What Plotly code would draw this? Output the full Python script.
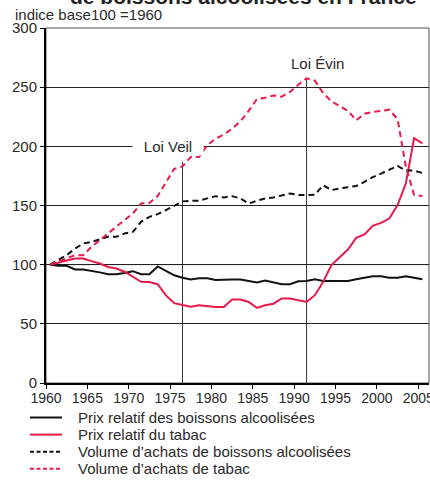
import plotly.graph_objects as go

years = list(range(1960, 2006))

prix_alcool = [100, 99, 99, 96, 96, 95, 93.5, 92, 92, 93,
               94.5, 92, 92, 98.5, 94.5, 91, 89, 87.5, 88.5, 88.5,
               87, 87.5, 87.5, 87.5, 86.5, 85, 86.5, 85, 83.5, 83.5,
               86, 86.3, 87.7, 86.3, 86.3, 86.3, 86.3, 87.7, 89, 90.2,
               90.2, 89, 89, 90.2, 89, 87.7]

prix_tabac = [100, 101.5, 103.5, 105.2, 105.2, 103, 101, 98, 96.7, 94,
              90, 85.5, 85.4, 83.5, 74, 67.5, 66, 64.5, 65.7, 65,
              64.3, 64.3, 70.5, 70.5, 68.5, 63.5, 65.7, 67, 71.4, 71.4,
              70, 68.5, 74.2, 85.4, 99.6, 106.6, 112.8, 122.6, 125.5, 132.8,
              135.3, 139, 150.3, 168.6, 207, 202.5]

vol_alcool = [100, 104, 108, 113.5, 117.9, 119.3, 121.3, 123.5, 123.5, 126.4,
              127.7, 136.2, 140.4, 142.7, 146, 149.5, 153.5, 154, 154, 156,
              157.9, 156.8, 157.9, 156, 151.7, 154, 156, 156.8, 158.8, 160.2,
              158.8, 158.8, 159, 167.2, 163, 164.4, 165.5, 166.5, 170, 174,
              177, 180, 183.5, 179.5, 179.5, 177.5]

vol_tabac = [100, 102.5, 105, 108, 108, 115, 120.7, 126.4, 132, 137.6,
             143.3, 151.7, 152, 158, 170, 181, 183, 191, 191, 201,
             206.5, 210, 215, 221, 230, 240, 241, 243, 242, 246,
             252, 257.5, 255.5, 245, 238, 234, 230, 222, 227.5, 229,
             230, 231, 223, 183, 159, 158]

series_names = ["Prix relatif des boissons alcoolisées",
                "Prix relatif du tabac",
                "Volume d\u2019achats de boissons alcoolisées",
                "Volume d\u2019achats de tabac"]

law_names = ["Loi Veil", "Loi Évin"]
law_years = [1976, 1991]
law_tops = [187, 257.5]

x_tick_labels = [str(y) for y in range(1960, 2006, 5)]
y_tick_vals = [0, 50, 100, 150, 200, 250, 300]

RED = "#E8194B"
BLK = "#111111"
TXT = "#2a2a2a"
FONT = "Liberation Sans, Arial, Helvetica, sans-serif"

W, H = 430, 483
ML, MR, MT, MB = 46, 1, 28, 100
PW, PH = W - ML - MR, H - MT - MB


def px_to_paper_x(px):
    return (px - ML) / PW


def px_to_paper_y(py):
    return (H - MB - py) / PH


# data points are plotted at the middle of each year
xs = [y + 0.5 for y in years]

fig = go.Figure()
styles = [(BLK, "solid"), (RED, "solid"), (BLK, "6px,4px"), (RED, "6px,4px")]
for name, vals, (col, dash) in zip(series_names,
                                   [prix_alcool, prix_tabac, vol_alcool, vol_tabac],
                                   styles):
    fig.add_trace(go.Scatter(x=xs, y=vals, mode="lines", name=name,
                             showlegend=False,
                             line=dict(color=col, width=2, dash=dash)))

# legend drawn below the chart (tight rows as in the original)
leg_dash = {"solid": "solid", "6px,4px": "4px,2.5px"}
for i, (name, (col, dash)) in enumerate(zip(series_names, styles)):
    yc = px_to_paper_y(417.5 + i * 17.1)
    fig.add_shape(type="line", xref="paper", yref="paper",
                  x0=px_to_paper_x(30), x1=px_to_paper_x(62), y0=yc, y1=yc,
                  line=dict(color=col, width=2, dash=leg_dash[dash]))
    fig.add_annotation(x=px_to_paper_x(76), y=yc, xref="paper", yref="paper",
                       text=name, showarrow=False, xanchor="left",
                       yanchor="middle",
                       font=dict(size=15, color=TXT, family=FONT))

# law reference lines
for yr, top in zip(law_years, law_tops):
    fig.add_shape(type="line", xref="x", yref="y", x0=yr + 0.5, x1=yr + 0.5,
                  y0=0, y1=top, line=dict(color="#333", width=1), layer="below")

# thin frame on top and right
fig.add_shape(type="rect", xref="paper", yref="paper", x0=0, x1=1, y0=0, y1=1,
              line=dict(color="#555", width=1), layer="below")
# lighter 100 reference line
fig.add_shape(type="line", xref="paper", yref="y", x0=0, x1=1, y0=100, y1=100,
              line=dict(color="#888", width=1), layer="below")

fig.add_annotation(x=1974.8, y=200, xref="x", yref="y", text=law_names[0],
                   showarrow=False, bgcolor="white", borderpad=0,
                   width=70, font=dict(size=15, color=TXT, family=FONT))
fig.add_annotation(x=1992.8, y=270, xref="x", yref="y", text=law_names[1],
                   showarrow=False, font=dict(size=15, color=TXT, family=FONT))

fig.add_annotation(x=px_to_paper_x(13), y=px_to_paper_y(14), xref="paper",
                   yref="paper", text="indice base100 =1960", showarrow=False,
                   xanchor="left", yanchor="middle",
                   font=dict(size=15, color=TXT, family=FONT))
fig.add_annotation(x=px_to_paper_x(243), y=px_to_paper_y(10), xref="paper",
                   yref="paper",
                   text="<b>de boissons alcoolisées en France</b>", showarrow=False,
                   xanchor="center", yanchor="bottom",
                   font=dict(size=21, color="#222", family=FONT))

fig.update_layout(
    width=W, height=H,
    margin=dict(l=ML, r=MR, t=MT, b=MB, autoexpand=False),
    paper_bgcolor="white", plot_bgcolor="white",
    font=dict(family=FONT, size=14, color=TXT),
    showlegend=False,
    xaxis=dict(range=[1960, 2006.3], tickvals=list(range(1960, 2006, 5)),
               ticktext=x_tick_labels, showgrid=False, zeroline=False,
               showline=True, linecolor="black", linewidth=2,
               ticks="outside", ticklen=4, tickcolor="black",
               ticklabeloverflow="allow", ticklabelstandoff=-3,
               tickfont=dict(size=14, color=TXT, family=FONT)),
    yaxis=dict(range=[0, 300], tickvals=y_tick_vals, showgrid=True,
               gridcolor="#222", gridwidth=1, zeroline=False,
               showline=True, linecolor="black", linewidth=2,
               ticks="outside", ticklen=4, tickcolor="black",
               tickfont=dict(size=15, color=TXT, family=FONT)),
)

fig.write_html("out.html", config={"displayModeBar": False},
               post_script="document.body.style.margin='0px';document.body.style.overflow='hidden';")
